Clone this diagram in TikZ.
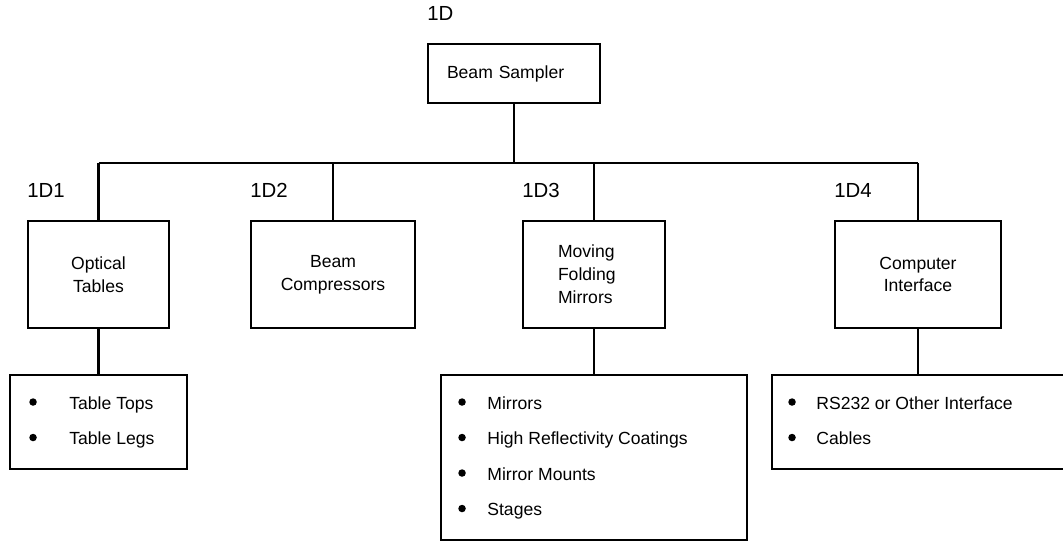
\documentclass[tikz,border=0pt]{standalone}
\usepackage{fontspec}
\setmainfont{Liberation Sans}
\usetikzlibrary{positioning}

\begin{document}
\begin{tikzpicture}[
		font=\fontsize{10}{13}\selectfont,
		box/.style={draw, line width=1.1pt, inner sep=0pt},
		link/.style={line width=1.6pt},
		tag/.style={anchor=base west, inner sep=0pt, font=\fontsize{11.6}{14}\selectfont},
		dot/.style={circle, fill, inner sep=0pt, minimum size=0.15cm},
		item/.style={anchor=base west, inner sep=0pt}]
			\useasboundingbox (0,0) rectangle (21.26,10.82);

			\node[box, minimum width=3.44cm, minimum height=1.18cm, text width=2.68cm, align=left] (top) at (10.28, 9.35) {Beam Sampler};
			\node[box, minimum width=2.82cm, minimum height=2.14cm, align=center] (b1) at (1.97,  5.33) {Optical\\Tables};
			\node[box, minimum width=3.28cm, minimum height=2.14cm, align=center] (b2) at (6.66,  5.33) {Beam\\Compressors};
			\node[box, minimum width=2.84cm, minimum height=2.14cm, text width=1.44cm, align=left] (b3) at (11.88, 5.33) {Moving\\Folding\\Mirrors};
			\node[box, minimum width=3.32cm, minimum height=2.14cm, align=center] (b4) at (18.36, 5.33) {Computer\\Interface};

			\node[box, minimum width=3.54cm, minimum height=1.88cm] (o1) at (1.97,  2.38) {};
			\node[box, minimum width=6.12cm, minimum height=3.30cm] (o3) at (11.88, 1.67) {};
			\node[box, minimum width=5.84cm, minimum height=1.88cm] (o4) at (18.36, 2.38) {};

			% numbers above the boxes
			\foreach \n/\t in {top/1D, b1/1D1, b2/1D2, b3/1D3, b4/1D4}
			{	\node[tag] (l\n) at ([yshift=0.46cm]\n.north west) {\t};
			}

			% tree lines
			\coordinate (bar) at (0, 7.56);
			\draw[link] (top.south) -- (top.south |- bar);
			\draw[link] (b1.north |- bar) -- (b4.north |- bar);
			\foreach \b in {b1, b2, b3, b4}
			{	\draw[link] (\b.north |- bar) -- (\b.north);
			}
			\foreach \u/\v in {b1/o1, b3/o3, b4/o4}
			{	\draw[link] (\u.south) -- (\v.north);
			}

			% bullet lists
			\def\tables {1/Table Tops, 2/Table Legs}
			\foreach \i/\t in \tables
			{	\node[dot]  (o1d\i) at ([xshift=0.48cm, yshift={0.14cm-0.70cm-(\i-1)*0.71cm}]o1.north west) {};
				\node[item] (o1t\i) at ([xshift=1.20cm, yshift={-0.70cm-(\i-1)*0.71cm}]o1.north west) {\t};
			}
			\def\mirrors {1/Mirrors, 2/High Reflectivity Coatings, 3/Mirror Mounts, 4/Stages}
			\foreach \i/\t in \mirrors
			{	\node[dot]  (o3d\i) at ([xshift=0.44cm, yshift={0.14cm-0.70cm-(\i-1)*0.71cm}]o3.north west) {};
				\node[item] (o3t\i) at ([xshift=0.94cm, yshift={-0.70cm-(\i-1)*0.71cm}]o3.north west) {\t};
			}
			\def\ports {1/RS232 or Other Interface, 2/Cables}
			\foreach \i/\t in \ports
			{	\node[dot]  (o4d\i) at ([xshift=0.42cm, yshift={0.14cm-0.70cm-(\i-1)*0.71cm}]o4.north west) {};
				\node[item] (o4t\i) at ([xshift=0.90cm, yshift={-0.70cm-(\i-1)*0.71cm}]o4.north west) {\t};
			}
		\end{tikzpicture}
\end{document}
